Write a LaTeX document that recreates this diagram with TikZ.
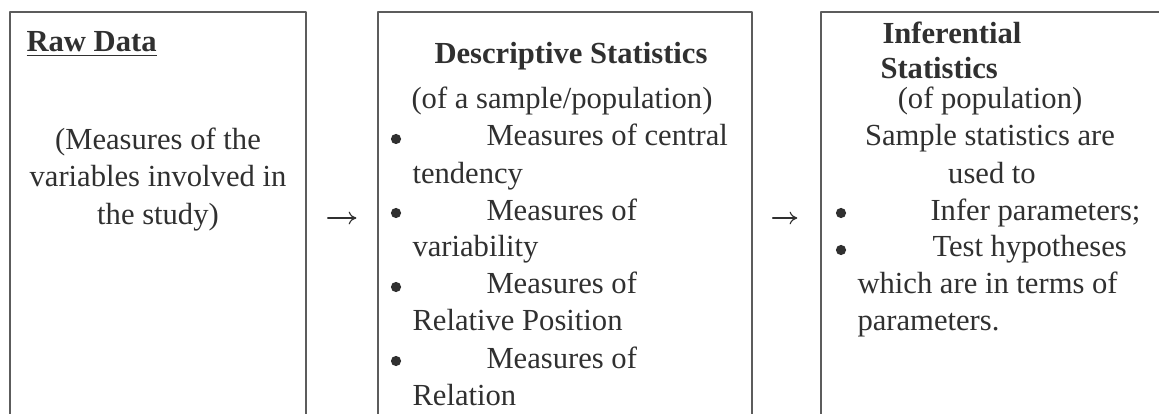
\documentclass[tikz,border=0pt]{standalone}
\usepackage{fontspec}
\setmainfont{Liberation Serif}
\usepackage{tikz}
\usetikzlibrary{arrows.meta,fit}
\definecolor{stInk}{HTML}{303030}
\definecolor{stLine}{HTML}{5C5C5C}
\tikzset{
  st diagram/.style={font=\fontsize{12}{14.9}\selectfont, text=stInk,
    line cap=round, line join=round},
  st box/.style={draw=stLine, line width=0.6pt, inner sep=0pt},
  st text/.style={inner sep=0pt, anchor=base west},
  st centre/.style={inner sep=0pt, anchor=base},
  st head/.style={st text, font=\fontsize{12}{14.9}\selectfont\bfseries},
  st bullet/.style={circle, fill=stInk, inner sep=0pt, minimum size=4pt},
  st arrow/.style={-{To[length=3pt,width=5pt]}, draw=stInk, line width=0.45pt}
}
\begin{document}
\begin{tikzpicture}[st diagram,x=0.392pt,y=-0.392pt]
\useasboundingbox (0,0) rectangle (1159,414);
\clip (0,0) rectangle (1159,414);
% boxes, open at the foot of the page
\node[st box,fit={(10,12) (306,440)}] (raw) {};
\node[st box,fit={(378,12) (752,440)}] (desc) {};
\node[st box,fit={(821,12) (1166,440)}] (infer) {};
\coordinate (row) at (0,218);
\draw[st arrow,shorten <=8.2pt,shorten >=8.2pt] (raw.east |- row) -- (desc.west |- row);
\draw[st arrow,shorten <=7.8pt,shorten >=9pt] (desc.east |- row) -- (infer.west |- row);
% raw data
\node[st head] (rawtitle) at (26,52) {\underline{Raw Data}};
\node[st centre] (raw1) at (158,150) {(Measures of the};
\node[st centre] (raw2) at (158,187) {variables involved in};
\node[st centre] (raw3) at (158,224) {the study)};
% descriptive statistics
\node[st head,anchor=base] (desctitle) at (571,64) {Descriptive Statistics};
\node[st text] (desc0) at (411,109) {(of a sample/population)};
\foreach \y/\first/\rest [count=\i] in {146/Measures of central/tendency,
    220/Measures of/variability, 294/Measures of/Relative Position,
    368/Measures of/Relation} {
  \node[st bullet] (dbul\i) at (396,\y-7) {};
  \node[st text] (ditem\i) at (486,\y) {\first};
  \node[st text] (dcont\i) at (412,\y+37) {\rest};
}
% inferential statistics
\node[st head] (inf1) at (882,44) {Inferential};
\node[st head] (inf2) at (880,79) {Statistics};
\node[st centre] (inf3) at (990,109) {(of population)};
\node[st centre] (inf4) at (990,146) {Sample statistics are};
\node[st centre] (inf5) at (992,183) {used to};
\node[st bullet] (ibul1) at (841,213) {};
\node[st text] (inf6) at (930,220) {Infer parameters;};
\node[st bullet] (ibul2) at (841,250) {};
\node[st text] (inf7) at (932,257) {Test hypotheses};
\node[st text] (inf8) at (857,294) {which are in terms of};
\node[st text] (inf9) at (857,331) {parameters.};
\end{tikzpicture}
\end{document}
